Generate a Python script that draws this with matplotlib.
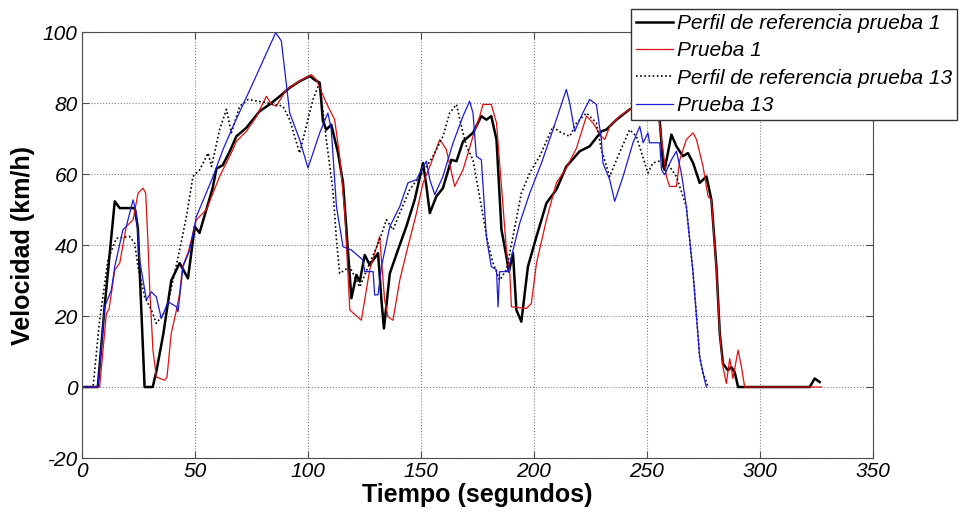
import numpy as np
import matplotlib
matplotlib.use("Agg")
import matplotlib.pyplot as plt

plt.rcParams["font.family"] = ["Liberation Sans", "DejaVu Sans"]
plt.rcParams["axes.unicode_minus"] = False

# Perfil de referencia prueba 1 (black, thick)
t_ref1 = [0, 7, 10, 14.5, 16.7, 23.3, 24.7, 27.7, 31.3, 33, 36, 39.5, 43.2, 46.9, 49.9, 52,
          57.8, 59.5, 62.3, 65.4, 68.3, 72.7, 78.6, 83, 87.5, 91.9, 96, 100.8, 103, 105.2,
          106.6, 108.1, 110.3, 113.3, 115.5, 119.2, 121.4, 122.9, 125.1, 127.3, 131, 132.5,
          133.6, 136.2, 139.8, 143.5, 147.2, 150.9, 152.4, 153.9, 156.8, 159.7, 163.4, 165.7,
          168.6, 173, 176.7, 178.9, 181.1, 183.4, 185.6, 187.8, 188.9, 190.7, 192.2, 194.4,
          197.3, 201.1, 205.5, 209.9, 214.3, 220.2, 224.6, 229.8, 232, 236.5, 242.3, 248, 254,
          255.6, 257.2, 257.8, 260.8, 263, 265.9, 268.1, 270.4, 273.3, 276.3, 278.5, 280.7,
          282.2, 283.6, 285.8, 287.3, 288.8, 290.3, 322, 324.2, 326.4]
v_ref1 = [0, 0, 22.6, 52.3, 50.4, 50.4, 45, 0, 0, 4.7, 15, 30, 34.9, 30.6, 45.2, 43.4,
          56, 61.5, 62.5, 66.4, 70.6, 73, 77.7, 79.6, 81.9, 84.3, 86, 87.6, 86.5, 85.7,
          74.9, 72.5, 73.9, 65.9, 57.5, 25, 31.6, 29.7, 37.2, 34.4, 37.7, 24.5,
          16.5, 32, 38.6, 45.2, 52.7, 63.1, 56.5, 49, 53.7, 56, 64, 63.6,
          69.2, 71.6, 76.3, 75.3, 76.3, 69.7, 44.3, 36.7, 32.5, 37.7, 21.7, 18.4,
          33.9, 42.4, 51.8, 55.6, 62.1, 66.4, 67.8, 72, 72.5, 75.3, 78.2, 80, 82,
          75.3, 62.1, 61.2, 71.1, 67.8, 65, 65.9, 63.1, 57.5, 59.3, 52.7, 33.9,
          15.1, 6.6, 4.7, 5.6, 4.2, 0, 0, 2.4, 1.4]

# Prueba 1 (red)
t_p1 = [0, 7.8, 10.8, 12, 14.5, 16.7, 19.6, 22.6, 24.8, 27, 28.2, 29.2, 30, 31.4, 32.9, 36.6,
        37.6, 39.5, 41.8, 43.2, 44.5, 47, 49.1, 50.6, 55, 60.9, 66.8, 68.3, 72.7, 77, 81.6,
        83.8, 86, 90.4, 96.3, 101.5, 103.7, 108.1, 111.8, 114, 116.2, 118.5, 123.6, 127.3,
        131.7, 133.9, 135.4, 137.6, 140.6, 144.2, 148, 150.9, 153.9, 158.3, 161.2, 164.9,
        168.6, 173, 176, 177.4, 181.1, 183.4, 187.8, 189.3, 190, 196.6, 198.8, 201.1, 205.5,
        209.9, 214.3, 218.8, 223.2, 226.1, 229.8, 231.3, 233.5, 237.9, 242.3, 248, 254,
        256.4, 258.6, 260, 263, 264.5, 267.4, 270.4, 271.9, 274.8, 277, 278.5, 280.7, 282.2,
        283.6, 285.1, 286.6, 288, 290.3, 291.8, 293.2, 327.2]
v_p1 = [0, 0, 20.7, 22, 33, 34.9, 45.2, 47.1, 54.6, 56, 54.6, 40.5, 27.3, 10.4, 2.8, 1.9,
        2.8, 15.1, 21.7, 26.4, 33.9, 38, 43.3, 47.1, 49.9, 59.3, 66.9, 69.2, 72, 76, 81.9,
        79.6, 79.1, 83.8, 86.2, 88, 86.6, 80, 75.3, 65, 49.9, 21.7, 18.8, 33,
        42.4, 24.5, 19.8, 18.8, 30.1, 39.5, 49, 57.5, 62.1, 69.7, 66.9, 56.5,
        61.2, 70.6, 76.3, 79.6, 79.6, 74.4, 38.6, 32, 22.6, 22.1, 23.5, 34.9, 47.1,
        57.5, 61.7, 67.3, 76.3, 74.4, 70.6, 69.7, 73.4, 76.3, 78.2, 80, 82,
        70, 59.3, 56.5, 56.5, 64, 69.7, 71.6, 69.7, 62.1, 53.7, 52.7, 33, 15,
        5.6, 1, 8, 2.4, 10.4, 5.6, 0, 0]

# Perfil de referencia prueba 13 (black, dotted)
t_ref13 = [0, 4.9, 7.8, 11.5, 15.2, 21.1, 23.3, 24.8, 27.7, 30.7, 32.9, 37.3, 40.3, 43.2,
           46.2, 49.1, 52.1, 55.8, 57.3, 60.9, 63.9, 66.1, 69.8, 73.5, 81.6, 88.9, 91.9,
           96.3, 102.2, 105.2, 106.6, 108.1, 111, 112.6, 114, 118.5, 122.9, 127.3, 131.7,
           134.7, 137.6, 140.6, 145, 149.4, 152.4, 155.3, 159.7, 162.7, 165.7, 167.9, 170.1,
           173, 175.9, 179.6, 181.9, 184.8, 187.8, 190.7, 194.4, 198.1, 202.5, 208.4, 211,
           215.8, 218.8, 223.2, 227.6, 229.8, 233.5, 236.5, 242.3, 245.3, 250.4, 252.6,
           257.2, 260, 263, 267.4, 270.4, 273.3, 274.8, 276.3, 277]
v_ref13 = [0, 0, 18.8, 35.8, 41.9, 42.4, 40.5, 33.9, 25.4, 21.7, 17.9, 21.7, 30.1, 38.6,
           48, 59.3, 61.2, 65.9, 62.1, 72.5, 78.2, 71.6, 79.1, 81, 80.1, 79.1, 75.3,
           65.9, 81, 85.7, 77.7, 69.7, 55.6, 41.4, 32, 33.9, 28.2, 34.9, 41.4,
           47.1, 44.3, 49, 55.6, 59.3, 62.1, 65, 70.6, 77.2, 79.6, 73.4, 67.8,
           64, 53.7, 40.5, 34.9, 30.1, 33, 42.4, 54.6, 60.3, 65, 73.4, 72,
           70.6, 74.4, 77.2, 74.4, 66.9, 59.3, 64, 72.5, 70.6, 60.3, 63.1,
           64, 62.1, 59.3, 50.8, 32, 8.5, 3.8, 1.4, 0]

# Prueba 13 (blue)
t_p13 = [0, 7, 10, 13, 14.5, 18.1, 19.6, 22.6, 24.1, 25.5, 28.5, 30.7, 32.9, 35.1, 38.1,
         41.8, 42.5, 44.7, 47.7, 50.6, 58, 62.4, 66.8, 75.7, 85.7, 88.2, 91.9, 96.3, 100,
         105.2, 108.8, 110.3, 112.6, 115.5, 119.2, 124.3, 125.1, 128.8, 129.5, 131, 132.5,
         136.2, 140.6, 144.2, 148, 150.2, 152.4, 153.9, 156.1, 159.7, 164.2, 168.6, 171.5,
         173, 174.5, 176.7, 178.9, 181.1, 183.4, 184.1, 184.8, 188.5, 190, 193.7, 198.1,
         203.3, 208.4, 214.3, 215.8, 218, 220.9, 224.6, 227.6, 229.8, 230.5, 233.5, 235.7,
         239.4, 243.8, 246.8, 248.3, 250.4, 251.1, 255.6, 256.4, 257.8, 260.8, 263, 265.2,
         267.4, 270.4, 273.3, 275.5, 276.3]
v_p13 = [0, 0, 22.6, 27.3, 33.9, 44.3, 45.2, 52.7, 49, 35.8, 24.5, 26.8, 25.4, 19.3, 24,
         22.6, 21.2, 33.9, 38.6, 48, 59.3, 66.9, 73.4, 85.7, 99.8, 97.5, 77.2, 69.7, 61.7,
         71.6, 77.2, 72.5, 50.8, 39.5, 38.6, 35.8, 32.5, 32.5, 25.9, 26, 33.9,
         45.2, 50.8, 57.5, 58.4, 61.2, 63.6, 58.4, 54.2, 59.3, 68.8, 76.3, 80.5,
         77.2, 65, 64, 42.4, 33.9, 33, 22.6, 32.5, 32.5, 36.7, 46.2, 54.6,
         63.1, 72.5, 83.8, 80, 72, 76.3, 81, 79.6, 69.7, 63.1, 58.4, 52.3,
         59.3, 68.8, 73.4, 68.8, 71.6, 68.8, 68.8, 61.2, 59.8, 64, 66.4, 60.3,
         50.8, 32, 8.5, 1.9, 0]

LABELS = ["Perfil de referencia prueba 1", "Prueba 1",
          "Perfil de referencia prueba 13", "Prueba 13"]


def plot():
    fig = plt.figure(figsize=(9.6, 5.13), dpi=100)
    ax = fig.add_axes([0.0854, 0.1072, 0.824, 0.8304])

    l1, = ax.plot(t_ref1, v_ref1, color="black", lw=1.8)
    l2, = ax.plot(t_p1, v_p1, color="#e01010", lw=0.9)
    l3, = ax.plot(t_ref13, v_ref13, color="black", lw=1.2, ls=(0, (1, 1.5)))
    l4, = ax.plot(t_p13, v_p13, color="#1a1ad8", lw=0.9)

    ax.set_xlim(0, 350)
    ax.set_ylim(-20, 100)
    ax.set_xticks(np.arange(0, 351, 50))
    ax.set_yticks(np.arange(-20, 101, 20))
    ax.grid(True, ls=":", color="0.5", lw=0.8)
    ax.tick_params(direction="in", top=True, right=True, length=5,
                   labelsize=15, pad=3, color="0.3")
    for lab in ax.get_xticklabels() + ax.get_yticklabels():
        lab.set_fontstyle("italic")
    for sp in ax.spines.values():
        sp.set_color("0.3")

    ax.set_xlabel("Tiempo (segundos)", fontsize=18, fontweight="bold", labelpad=1)
    ax.set_ylabel("Velocidad (km/h)", fontsize=18, fontweight="bold", labelpad=6)

    leg = fig.legend([l1, l2, l3, l4], LABELS, loc="upper right",
                     bbox_to_anchor=(0.997, 0.983), borderaxespad=0,
                     prop={"size": 15, "style": "italic"},
                     fancybox=False, framealpha=1, edgecolor="0.2",
                     borderpad=0.25, labelspacing=0.4, handlelength=1.75,
                     handletextpad=0.2)
    leg.get_frame().set_linewidth(1.0)

    fig.savefig("out.png", dpi=100)


if __name__ == "__main__":
    plot()
